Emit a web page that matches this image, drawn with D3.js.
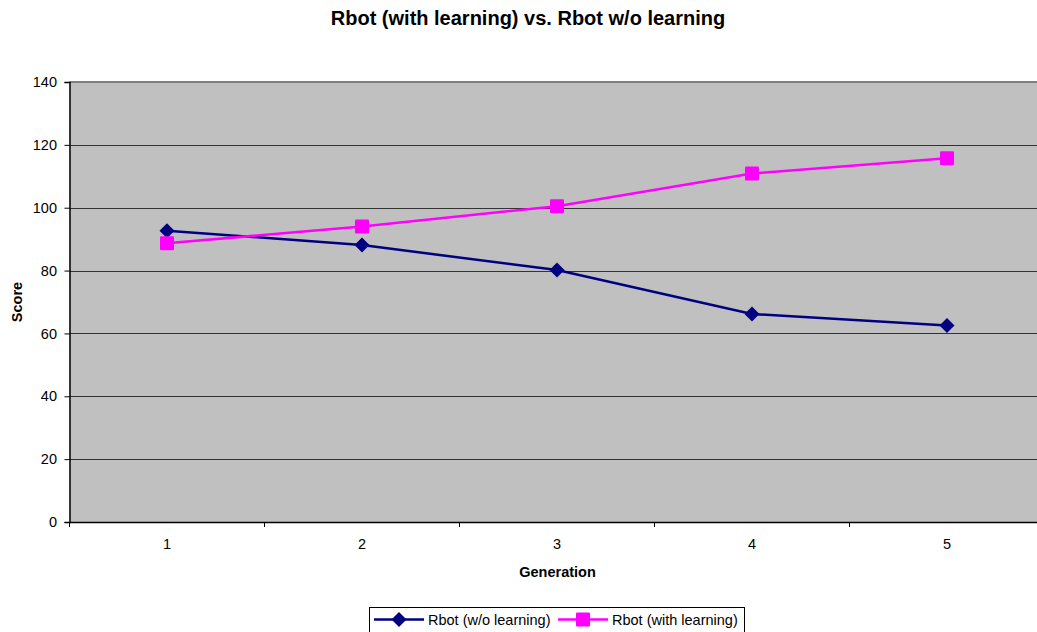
<!DOCTYPE html>
<html>
<head>
<meta charset="utf-8">
<script src="https://cdn.jsdelivr.net/npm/d3@7"></script>
<style>
  body { margin: 0; background: #fff; }
  svg { display: block; font-family: "Liberation Sans", Arial, sans-serif; }
</style>
</head>
<body>
<svg id="chart" width="1037" height="632"></svg>
<script>
const generations = [1, 2, 3, 4, 5];
const withoutLearning = [92.7, 88.1, 80.2, 66.2, 62.5];
const withLearning = [88.7, 94.0, 100.5, 110.9, 115.7];
const yTicks = [0, 20, 40, 60, 80, 100, 120, 140];

const svg = d3.select("#chart");
const plotLeft = 69.5, plotTop = 82, plotBottom = 522;
const bandW = 195;
const plotRight = plotLeft + bandW * generations.length;
const labelSize = 14.5;

const x = d3.scaleBand().domain(generations).range([plotLeft, plotRight]);
const y = d3.scaleLinear().domain([0, 140]).range([plotBottom, plotTop]);

// plot background
svg.append("rect")
  .attr("x", plotLeft).attr("y", plotTop)
  .attr("width", plotRight - plotLeft).attr("height", plotBottom - plotTop)
  .attr("fill", "#c0c0c0");

// top border of plot area
svg.append("line")
  .attr("x1", plotLeft).attr("x2", plotRight)
  .attr("y1", plotTop).attr("y2", plotTop)
  .attr("stroke", "#808080").attr("stroke-width", 2);

// horizontal gridlines
svg.append("g").selectAll("line")
  .data(yTicks.filter(d => d > 0 && d < 140))
  .join("line")
  .attr("x1", plotLeft).attr("x2", plotRight)
  .attr("y1", d => Math.round(y(d)) + 0.5).attr("y2", d => Math.round(y(d)) + 0.5)
  .attr("stroke", "#333").attr("stroke-width", 1);

// y axis
const yAxis = svg.append("g")
  .attr("transform", `translate(${plotLeft},0)`)
  .call(d3.axisLeft(y).tickValues(yTicks).tickSize(5).tickPadding(7.5));
yAxis.select(".domain").attr("stroke", "#000").attr("stroke-width", 1.5);
yAxis.selectAll(".tick line").attr("stroke", "#000");
yAxis.selectAll("text").attr("font-size", labelSize).attr("fill", "#000")
  .attr("font-family", "Liberation Sans, Arial, sans-serif");

// x axis
const xAxis = svg.append("g")
  .attr("transform", `translate(0,${plotBottom})`)
  .call(d3.axisBottom(x).tickSize(0).tickPadding(16.5));
xAxis.select(".domain").attr("stroke", "#000").attr("stroke-width", 1.5);
xAxis.selectAll("text").attr("font-size", labelSize).attr("fill", "#000")
  .attr("font-family", "Liberation Sans, Arial, sans-serif");
// tick marks between categories
svg.append("g").selectAll("line")
  .data(d3.range(generations.length + 1))
  .join("line")
  .attr("x1", i => plotLeft + i * bandW).attr("x2", i => plotLeft + i * bandW)
  .attr("y1", plotBottom).attr("y2", plotBottom + 5)
  .attr("stroke", "#000");

const cx = d => x(d) + x.bandwidth() / 2;

const line = d3.line().x((d, i) => cx(generations[i])).y(d => y(d));

const series = [
  { name: "Rbot (w/o learning)", values: withoutLearning, color: "#000080", shape: "diamond" },
  { name: "Rbot (with learning)", values: withLearning, color: "#ff00ff", shape: "square" }
];

const drawMarker = (g, shape, color, px, py) => {
  if (shape === "diamond") {
    g.append("path")
      .attr("d", `M${px},${py - 7.5}L${px + 7.5},${py}L${px},${py + 7.5}L${px - 7.5},${py}Z`)
      .attr("fill", color);
  } else {
    g.append("rect")
      .attr("x", px - 7).attr("y", py - 7)
      .attr("width", 14).attr("height", 14).attr("rx", 1)
      .attr("fill", color);
  }
};

series.forEach(s => {
  svg.append("path")
    .datum(s.values)
    .attr("d", line)
    .attr("fill", "none")
    .attr("stroke", s.color)
    .attr("stroke-width", 2.5);
  const g = svg.append("g");
  s.values.forEach((v, i) => drawMarker(g, s.shape, s.color, cx(generations[i]), y(v)));
});

// title and axis labels
svg.append("text")
  .attr("x", 528).attr("y", 25)
  .attr("text-anchor", "middle")
  .attr("font-size", 20).attr("font-weight", "bold")
  .text("Rbot (with learning) vs. Rbot w/o learning");

svg.append("text")
  .attr("transform", "translate(22,302) rotate(-90)")
  .attr("text-anchor", "middle")
  .attr("font-size", labelSize).attr("font-weight", "bold")
  .text("Score");

svg.append("text")
  .attr("x", 557.5).attr("y", 576.5)
  .attr("text-anchor", "middle")
  .attr("font-size", labelSize).attr("font-weight", "bold")
  .text("Generation");

// legend
const lg = svg.append("g");
lg.append("rect")
  .attr("x", 369.5).attr("y", 607.5)
  .attr("width", 375).attr("height", 30)
  .attr("fill", "#fff").attr("stroke", "#000");
const legendItems = [
  { s: series[0], x0: 374 },
  { s: series[1], x0: 558 }
];
legendItems.forEach(({ s, x0 }) => {
  lg.append("line")
    .attr("x1", x0).attr("x2", x0 + 50)
    .attr("y1", 619.5).attr("y2", 619.5)
    .attr("stroke", s.color).attr("stroke-width", 2.5);
  drawMarker(lg, s.shape, s.color, x0 + 25, 619.5);
  lg.append("text")
    .attr("x", x0 + 54).attr("y", 624.5)
    .attr("font-size", labelSize)
    .text(s.name);
});
</script>
</body>
</html>
